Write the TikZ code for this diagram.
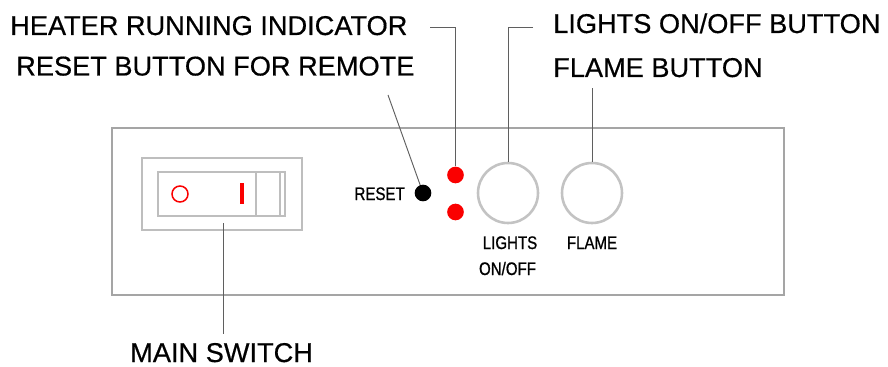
\documentclass[tikz,border=0pt]{standalone}
\usepackage{fontspec}
\setmainfont{Liberation Sans}[UprightFeatures={FakeBold=0.5}]
\newfontfamily\narrowfont[FakeStretch=0.83,FakeBold=0.9]{Liberation Sans}
\usepackage{tikz}
\usetikzlibrary{positioning}
\usepackage{xcolor}
\definecolor{panelgray}{RGB}{165,165,165}
\definecolor{framegray}{RGB}{190,190,190}
\definecolor{knobgray}{RGB}{195,195,195}
\definecolor{leadgray}{RGB}{95,95,95}
\definecolor{ledred}{RGB}{250,0,0}

\begin{document}
\begin{tikzpicture}[x=0.03cm,y=-0.03cm,
    biglabel/.style={font=\fontsize{23.2}{28}\selectfont,inner sep=0pt},
    smalllabel/.style={font=\narrowfont\fontsize{15.5}{18}\selectfont,inner sep=0pt},
    leader/.style={draw=leadgray,line width=0.8pt},
    frame/.style={draw=framegray,line width=0.9pt,inner sep=0pt},
    dot/.style={circle,minimum size=0.5cm,inner sep=0pt},
    knob/.style={circle,draw=knobgray,line width=2.2pt,minimum size=1.8cm,inner sep=0pt}]
    \useasboundingbox (0,0) rectangle (888,367);
    % panel
    \draw[panelgray,line width=1.3pt] (112,128) rectangle (784,295);
    % main switch
    \node[frame,minimum width=4.8cm,minimum height=2.16cm] (switch) at (222,194) {};
    \node[frame,minimum width=3.81cm,minimum height=1.32cm] (rocker) at (221.5,194) {};
    \draw[framegray,line width=0.9pt] (256,172) -- (256,216) (280,172) -- (280,216);
    \draw[ledred,line width=1.3pt] (180,194) circle (0.24cm);
    \draw[ledred,line width=3pt] (242,183) -- (242,204);
    % reset, leds, knobs
    \node[dot,fill=black] (resetdot) at (423,193) {};
    \node[smalllabel,anchor=base east] (resettxt) at (405,200) {RESET};
    \node[dot,fill=ledred] (ledtop) at (455.5,175) {};
    \node[dot,fill=ledred] (ledbot) at (455.5,212) {};
    \node[knob] (lightsknob) at (508,193) {};
    \node[knob] (flameknob) at (592,193) {};
    \node[smalllabel,anchor=base] (lightstxt) at (510,249) {LIGHTS};
    \node[smalllabel,anchor=base] (onofftxt) at (507.5,275) {ON/OFF};
    \node[smalllabel,anchor=base] (flametxt) at (592,249) {FLAME};
    % callouts
    \node[biglabel,anchor=base west] (heatlbl) at (10,35) {HEATER RUNNING INDICATOR};
    \node[biglabel,anchor=base west] (remotelbl) at (16,75.5) {RESET BUTTON FOR REMOTE};
    \node[biglabel,anchor=base west] (lightslbl) at (553,33) {LIGHTS ON/OFF BUTTON};
    \node[biglabel,anchor=base west,inner ysep=0.33cm] (flamelbl) at (553,77) {FLAME BUTTON};
    \node[biglabel,anchor=base west,inner ysep=0.25cm] (mainlbl) at (130,362) {MAIN SWITCH};
    \coordinate (heattip) at (430,27);
    \coordinate (lightstip) at (533,27);
    \coordinate (remotetip) at (388,95);
    \coordinate (switchtip) at (223,223);
    \draw[leader] (heattip) -| (ledtop);
    \draw[leader] (lightstip) -| (lightsknob);
    \draw[leader] (flameknob) -- (flameknob |- flamelbl.south);
    \draw[leader] (remotetip) -- (resetdot);
    \draw[leader] (switchtip) -- (switchtip |- mainlbl.north);
\end{tikzpicture}
\end{document}
